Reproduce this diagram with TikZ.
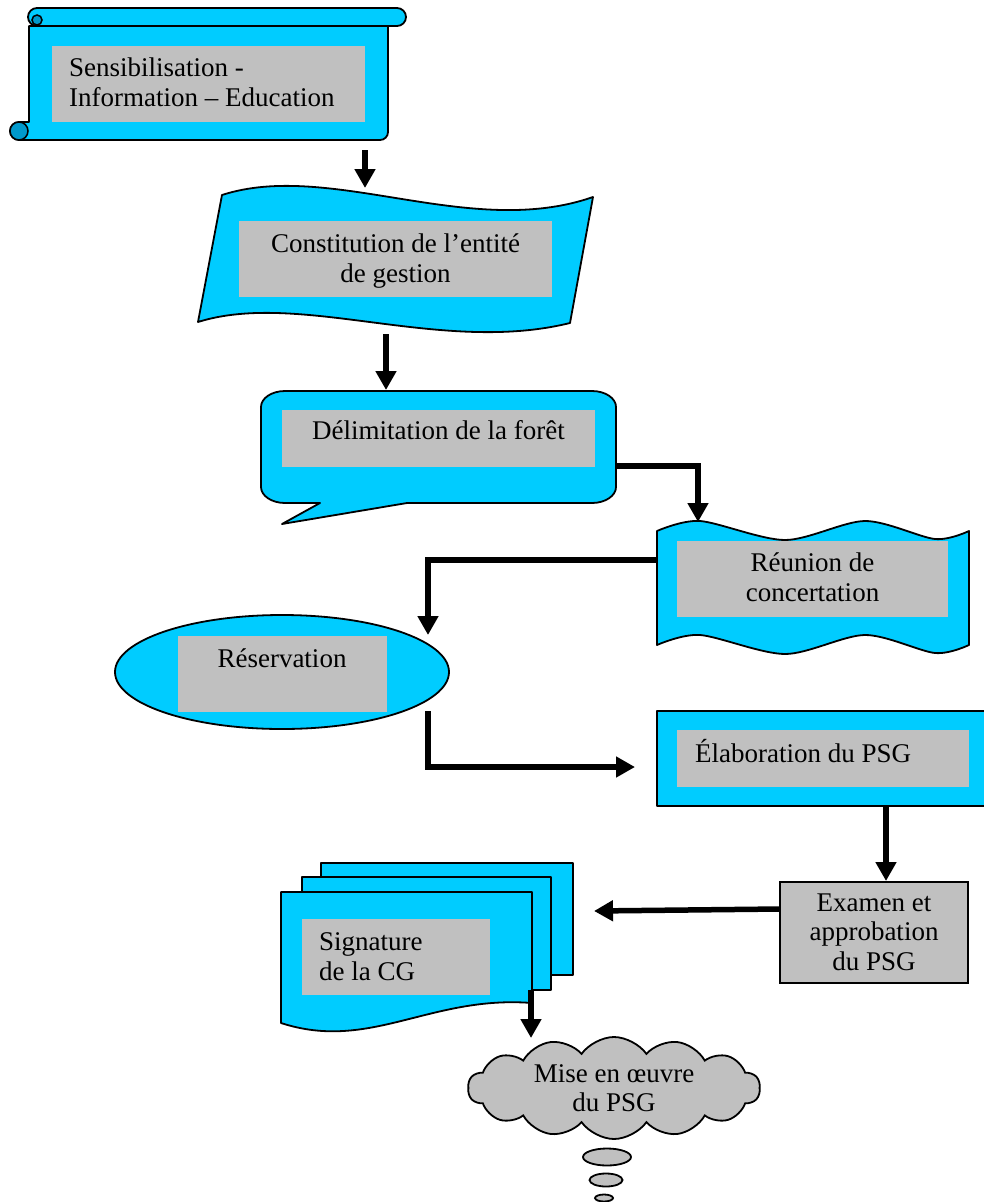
\documentclass[tikz,border=0pt]{standalone}
\usepackage{fontspec}
\setmainfont{Liberation Serif}
\usetikzlibrary{arrows.meta,positioning,calc,shapes.geometric,shapes.symbols}
\definecolor{skyblue}{HTML}{00CCFF}
\definecolor{curlblue}{HTML}{0099CC}
\definecolor{boxgray}{HTML}{C0C0C0}

\begin{document}
\begin{tikzpicture}[
  x=1pt,y=-1pt,
  every node/.style={font=\fontsize{27}{29.5}\selectfont,inner sep=0pt},
  shp/.style={draw,line width=1.8pt,fill=skyblue,line join=round},
  curl/.style={draw,line width=1.5pt,fill=curlblue},
  lbl/.style={fill=boxgray},
  txt/.style={anchor=base,align=center},
  txtl/.style={anchor=base west,align=left},
  puff/.style={draw,line width=1.8pt,fill=boxgray},
  arr/.style={-{Triangle[length=19pt,width=20pt]},line width=5.5pt}
]
\useasboundingbox (0,0) rectangle (984,1202);

% scroll
\draw[shp] (388,26) -- (388,132) arc[start angle=0,end angle=90,radius=8] -- (19,140)
  arc[start angle=90,end angle=270,radius=9] -- (29,122) -- (29,26) -- cycle;
\draw[shp] (37,8) -- (397,8) arc[start angle=-90,end angle=90,radius=9] -- (37,26)
  arc[start angle=90,end angle=270,radius=9] -- cycle;
\draw[curl] (19,131) circle[radius=9];
\draw[curl] (37,20) circle[radius=5];
\fill[lbl] (52,46) rectangle (365,122);
\node[txtl] (sens) at (69,106) {Sensibilisation -\\Information – Education};

% wave
\draw[shp] (222,195) .. controls (330,160) and (470,240) .. (593,197) -- (570,323)
  .. controls (440,355) and (300,290) .. (198,322) -- cycle;
\fill[lbl] (239,221) rectangle (552,297);
\node[txt] (const) at (395.5,282) {Constitution de l’entité\\de gestion};

% callout
\draw[shp] (407,503) -- (592,503) arc[start angle=90,end angle=0,x radius=24,y radius=16]
  -- (616,407) arc[start angle=0,end angle=-90,x radius=24,y radius=16]
  -- (285,391) arc[start angle=-90,end angle=-180,x radius=24,y radius=16]
  -- (261,487) arc[start angle=180,end angle=90,x radius=24,y radius=16]
  -- (320,503) -- (282,524) -- cycle;
\fill[lbl] (282,410) rectangle (595,467);
\node[txt] (delim) at (438.5,439) {Délimitation de la forêt};

% double wave
\draw[shp] plot[smooth] coordinates {(657,531) (700,521) (785,540) (865,521) (935,539) (969,531)}
  -- plot[smooth] coordinates {(969,645) (935,653) (865,635) (785,654) (700,635) (657,645)} -- cycle;
\fill[lbl] (677,541) rectangle (948,617);
\node[txt] (reun) at (812.5,601) {Réunion de\\concertation};

% ellipse
\draw[shp] (282,672) ellipse[x radius=167,y radius=57];
\fill[lbl] (178,636) rectangle (387,712);
\node[txt] (resv) at (282,667) {Réservation};

% plain box
\draw[shp] (657,711) rectangle (992,806);
\fill[lbl] (677,730) rectangle (969,787);
\node[txtl] (elab) at (695,762) {Élaboration du PSG};

\draw[puff] (780,882) rectangle (968,983);
\node[txt] (exam) at (874,970) {Examen et\\approbation\\du PSG};

% stacked sheets
\draw[shp] (321,863) rectangle (573,975);
\draw[shp] (302,877) rectangle (551,990);
\draw[shp] (281,892) -- (532,892) -- (532,1003)
  .. controls (430,995) and (370,1052) .. (281,1023) -- cycle;
\fill[lbl] (302,919) rectangle (490,995);
\node[txtl] (sign) at (319,980) {Signature\\de la CG};

% cloud
\node[cloud,puff,cloud puffs=14,cloud puff arc=110,cloud ignores aspect,minimum width=292pt,minimum height=102pt,align=center]
  (mise) at (614,1088) {Mise en œuvre\\du PSG};
\draw[puff] (607,1157) ellipse[x radius=24,y radius=8.5];
\draw[puff] (606,1180) ellipse[x radius=16.5,y radius=6.5];
\draw[puff] (604,1198) ellipse[x radius=9,y radius=3.5];

\coordinate (sensOut) at (365,150);
\coordinate (constIn) at (365,188);
\coordinate (constOut) at (386,334);
\coordinate (delimIn) at (386,390);
\coordinate (delimOut) at (616,466);
\coordinate (reunIn) at (698,522);
\coordinate (reunOut) at (657,560);
\coordinate (resvIn) at (428,635);
\coordinate (resvOut) at (428,711);
\coordinate (elabIn) at (635,767);
\coordinate (elabOut) at (886,806);
\coordinate (examIn) at (886,881);
\coordinate (examOut) at (780,909);
\coordinate (signIn) at (594,911);
\coordinate (signOut) at (531,990);
\coordinate (miseIn) at (531,1038);

\draw[arr] (sensOut) -- (constIn);
\draw[arr] (constOut) -- (delimIn);
\draw[arr] (delimOut) -| (reunIn);
\draw[arr] (reunOut) -| (resvIn);
\draw[arr] (resvOut) |- (elabIn);
\draw[arr] (elabOut) -- (examIn);
\draw[arr] (examOut) -- (signIn);
\draw[arr] (signOut) -- (miseIn);
\end{tikzpicture}
\end{document}
